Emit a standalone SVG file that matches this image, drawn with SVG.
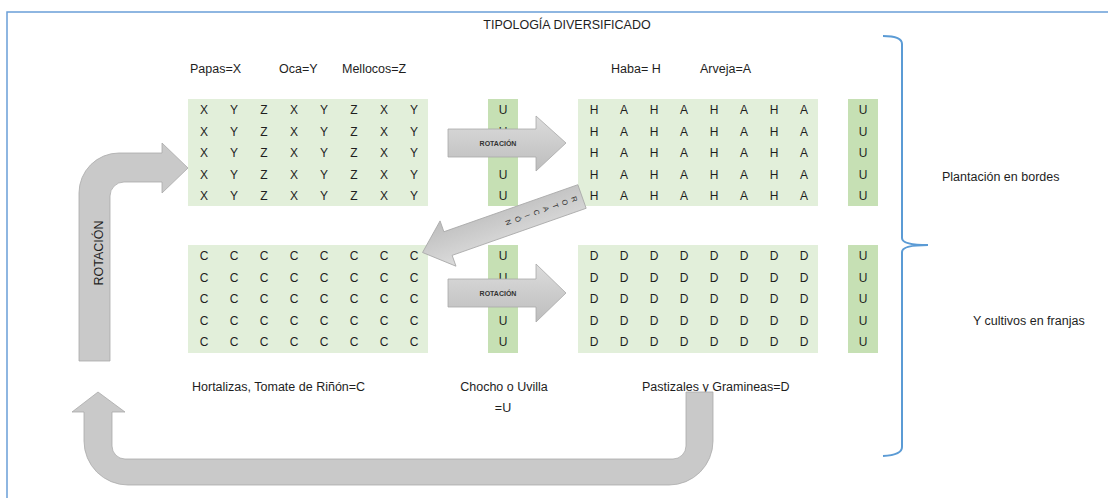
<svg xmlns="http://www.w3.org/2000/svg" width="1108" height="498" viewBox="0 0 1108 498">
<defs>
<linearGradient id="ag" x1="0" y1="0" x2="0" y2="1">
<stop offset="0" stop-color="#dcdcdc"/>
<stop offset="1" stop-color="#bdbdbd"/>
</linearGradient>
<style>
.t{font-family:"Liberation Sans",Arial,sans-serif;font-size:12.5px;fill:#1e1e1e}
.g{font-family:"Liberation Sans",Arial,sans-serif;font-size:12px;fill:#1e1e1e;text-anchor:middle}
.bg{fill:#e2efda}
.ub{fill:#c6e0b4}
.arr{fill:url(#ag);stroke:#a8a8a8;stroke-width:0.8}
.bent{fill:#c9c9c9;stroke:#aaaaaa;stroke-width:0.8}
.al{font-family:"Liberation Sans",Arial,sans-serif;font-size:7px;font-weight:bold;fill:#333;text-anchor:middle}
.dl{font-family:"Liberation Sans",Arial,sans-serif;font-size:7.5px;fill:#333;text-anchor:middle}
</style>
</defs>
<rect x="7" y="12" width="1120" height="500" fill="#fff" stroke="#6a9fd8" stroke-width="1.5"/>
<text class="t" x="567" y="29" text-anchor="middle" font-size="12">TIPOLOGÍA DIVERSIFICADO</text>

<g id="legend-top">
<text class="t" x="190" y="73">Papas=X</text>
<text class="t" x="279" y="73">Oca=Y</text>
<text class="t" x="342" y="73">Mellocos=Z</text>
<text class="t" x="611" y="73">Haba= H</text>
<text class="t" x="700" y="73">Arveja=A</text>
</g>

<g id="grid-xyz">
<rect class="bg" x="188" y="99" width="240" height="107"/>
<text class="g" x="204 234 264 294 324 354 384 414" y="114">XYZXYZXY</text>
<text class="g" x="204 234 264 294 324 354 384 414" y="135.5">XYZXYZXY</text>
<text class="g" x="204 234 264 294 324 354 384 414" y="157">XYZXYZXY</text>
<text class="g" x="204 234 264 294 324 354 384 414" y="178.5">XYZXYZXY</text>
<text class="g" x="204 234 264 294 324 354 384 414" y="200">XYZXYZXY</text>
</g>
<g id="u-top-mid">
<rect class="ub" x="488" y="99" width="30" height="107"/>
<text class="g" x="503" y="114">U</text><text class="g" x="503" y="135.5">U</text><text class="g" x="503" y="157">U</text><text class="g" x="503" y="178.5">U</text><text class="g" x="503" y="200">U</text>
</g>
<g id="grid-ha">
<rect class="bg" x="578" y="99" width="240" height="107"/>
<text class="g" x="594 624 654 684 714 744 774 804" y="114">HAHAHAHA</text>
<text class="g" x="594 624 654 684 714 744 774 804" y="135.5">HAHAHAHA</text>
<text class="g" x="594 624 654 684 714 744 774 804" y="157">HAHAHAHA</text>
<text class="g" x="594 624 654 684 714 744 774 804" y="178.5">HAHAHAHA</text>
<text class="g" x="594 624 654 684 714 744 774 804" y="200">HAHAHAHA</text>
</g>
<g id="u-top-right">
<rect class="ub" x="848" y="99" width="30" height="107"/>
<text class="g" x="863" y="114">U</text><text class="g" x="863" y="135.5">U</text><text class="g" x="863" y="157">U</text><text class="g" x="863" y="178.5">U</text><text class="g" x="863" y="200">U</text>
</g>

<g id="grid-c">
<rect class="bg" x="188" y="245" width="240" height="108"/>
<text class="g" x="204 234 264 294 324 354 384 414" y="260">CCCCCCCC</text>
<text class="g" x="204 234 264 294 324 354 384 414" y="281.5">CCCCCCCC</text>
<text class="g" x="204 234 264 294 324 354 384 414" y="303">CCCCCCCC</text>
<text class="g" x="204 234 264 294 324 354 384 414" y="324.5">CCCCCCCC</text>
<text class="g" x="204 234 264 294 324 354 384 414" y="346">CCCCCCCC</text>
</g>
<g id="u-bot-mid">
<rect class="ub" x="488" y="245" width="30" height="108"/>
<text class="g" x="503" y="260">U</text><text class="g" x="503" y="281.5">U</text><text class="g" x="503" y="303">U</text><text class="g" x="503" y="324.5">U</text><text class="g" x="503" y="346">U</text>
</g>
<g id="grid-d">
<rect class="bg" x="578" y="245" width="240" height="108"/>
<text class="g" x="594 624 654 684 714 744 774 804" y="260">DDDDDDDD</text>
<text class="g" x="594 624 654 684 714 744 774 804" y="281.5">DDDDDDDD</text>
<text class="g" x="594 624 654 684 714 744 774 804" y="303">DDDDDDDD</text>
<text class="g" x="594 624 654 684 714 744 774 804" y="324.5">DDDDDDDD</text>
<text class="g" x="594 624 654 684 714 744 774 804" y="346">DDDDDDDD</text>
</g>
<g id="u-bot-right">
<rect class="ub" x="848" y="245" width="30" height="108"/>
<text class="g" x="863" y="260">U</text><text class="g" x="863" y="281.5">U</text><text class="g" x="863" y="303">U</text><text class="g" x="863" y="324.5">U</text><text class="g" x="863" y="346">U</text>
</g>

<g id="legend-bottom">
<text class="t" x="192" y="391">Hortalizas, Tomate de Riñón=C</text>
<text class="t" x="504" y="391" text-anchor="middle">Chocho o Uvilla</text>
<text class="t" x="503" y="412" text-anchor="middle">=U</text>
<text class="t" x="642" y="391">Pastizales y Gramineas=D</text>
</g>

<g id="brace-labels">
<path d="M883,36 Q902,36 902,44 L902,238 Q902,245 928,245 Q902,245 902,252 L902,447 Q902,455 883,456" fill="none" stroke="#5b9bd5" stroke-width="2"/>
<text class="t" x="942" y="181">Plantación en bordes</text>
<text class="t" x="973" y="325">Y cultivos en franjas</text>
</g>

<g id="connectors">
<g id="arrow-top">
<path class="arr" d="M448,129 L536,129 L536,116 L566,143 L536,171 L536,157 L448,157 Z"/>
<text class="al" x="498" y="146">ROTACIÓN</text>
</g>
<g id="arrow-mid">
<path class="arr" d="M448,279 L536,279 L536,264 L566,293 L536,322 L536,307 L448,307 Z"/>
<text class="al" x="498" y="296">ROTACIÓN</text>
</g>
<g id="arrow-diag" transform="translate(582,196.5) rotate(160.65)">
<path class="arr" d="M0,-12.5 L142,-12.5 L142,-24 L169,0 L142,24 L142,12.5 L0,12.5 Z"/>
<text class="dl" transform="translate(8,0) rotate(-90)" dy="2.6">R</text>
<text class="dl" transform="translate(18,0) rotate(-90)" dy="2.6">O</text>
<text class="dl" transform="translate(28,0) rotate(-90)" dy="2.6">T</text>
<text class="dl" transform="translate(38,0) rotate(-90)" dy="2.6">A</text>
<text class="dl" transform="translate(48,0) rotate(-90)" dy="2.6">C</text>
<text class="dl" transform="translate(58,0) rotate(-90)" dy="2.6">I</text>
<text class="dl" transform="translate(68,0) rotate(-90)" dy="2.6">Ó</text>
<text class="dl" transform="translate(78,0) rotate(-90)" dy="2.6">N</text>
</g>
<g id="arrow-left">
<path class="bent" d="M79,361 L79,193 A40,40 0 0 1 119,153 L162,153 L162,143 L188,168 L162,193 L162,182 L124,182 A14,14 0 0 0 110,196 L110,361 Z"/>
<text class="t" font-size="12" transform="translate(102.5,253) rotate(-90)" text-anchor="middle">ROTACIÓN</text>
</g>
<g id="arrow-bottom">
<path class="bent" d="M98,392 L125,412 L112,412 L112,446 A13,13 0 0 0 125,459 L673,459 A13,13 0 0 0 686,446 L686,392 L713,392 L713,441 A44,44 0 0 1 669,485 L128,485 A44,44 0 0 1 84,441 L84,412 L72,412 Z"/>
</g>
</g>
</svg>
